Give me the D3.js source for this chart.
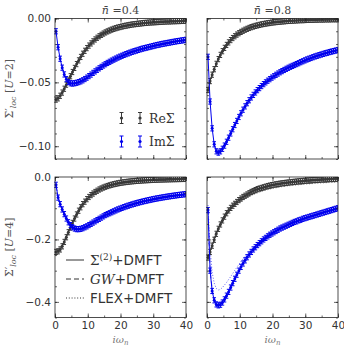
<html>
<head>
<script src="https://d3js.org/d3.v7.min.js"></script>
<style>
  body { margin: 0; background: white; }
  text { font-family: "DejaVu Sans", sans-serif; }
  .serif { font-family: "DejaVu Serif", serif; }
</style>
</head>
<body>
<div id="chart"></div>
<script>
// Matsubara frequencies
var wn = [0.31,0.94,1.57,2.20,2.83,3.46,4.08,4.71,5.34,5.97,
  6.60,7.23,7.85,8.48,9.11,9.74,10.37,11.00,11.62,12.25,
  12.88,13.51,14.14,14.77,15.39,16.02,16.65,17.28,17.91,18.54,
  19.16,19.79,20.42,21.05,21.68,22.31,22.93,23.56,24.19,24.82,
  25.45,26.08,26.70,27.33,27.96,28.59,29.22,29.85,30.47,31.10,
  31.73,32.36,32.99,33.62,34.24,34.87,35.50,36.13,36.76,37.39,
  38.01,38.64,39.27,39.90];

// U=2, n=0.4
var reU2n04 = [-0.0635,-0.0625,-0.0605,-0.0580,-0.0550,-0.0518,-0.0485,-0.0452,-0.0419,-0.0387,
  -0.0357,-0.0328,-0.0301,-0.0276,-0.0253,-0.0232,-0.0212,-0.0195,-0.0179,-0.0164,
  -0.0151,-0.0139,-0.0128,-0.0118,-0.0109,-0.0101,-0.0094,-0.0087,-0.0081,-0.0076,
  -0.0071,-0.0067,-0.0063,-0.0059,-0.0056,-0.0053,-0.0050,-0.0047,-0.0045,-0.0043,
  -0.0041,-0.0039,-0.0037,-0.0035,-0.0034,-0.0032,-0.0031,-0.0030,-0.0029,-0.0028,
  -0.0027,-0.0026,-0.0025,-0.0024,-0.0023,-0.0023,-0.0022,-0.0021,-0.0021,-0.0020,
  -0.0020,-0.0019,-0.0019,-0.0018];
var imU2n04 = [-0.0100,-0.0225,-0.0315,-0.0385,-0.0438,-0.0475,-0.0497,-0.0507,-0.0509,-0.0507,
  -0.0503,-0.0498,-0.0492,-0.0484,-0.0474,-0.0463,-0.0451,-0.0439,-0.0426,-0.0414,
  -0.0402,-0.0390,-0.0379,-0.0368,-0.0358,-0.0348,-0.0339,-0.0330,-0.0322,-0.0314,
  -0.0306,-0.0299,-0.0292,-0.0285,-0.0279,-0.0273,-0.0267,-0.0261,-0.0256,-0.0251,
  -0.0246,-0.0241,-0.0236,-0.0232,-0.0228,-0.0224,-0.0220,-0.0216,-0.0212,-0.0208,
  -0.0205,-0.0201,-0.0198,-0.0195,-0.0192,-0.0189,-0.0186,-0.0183,-0.0180,-0.0177,
  -0.0175,-0.0172,-0.0170,-0.0167];

// U=2, n=0.8
var reU2n08 = [-0.0560,-0.0490,-0.0440,-0.0397,-0.0355,-0.0318,-0.0285,-0.0256,-0.0230,-0.0207,
  -0.0187,-0.0169,-0.0153,-0.0139,-0.0126,-0.0115,-0.0105,-0.0096,-0.0088,-0.0081,
  -0.0074,-0.0068,-0.0063,-0.0058,-0.0054,-0.0050,-0.0046,-0.0043,-0.0040,-0.0037,
  -0.0035,-0.0032,-0.0030,-0.0028,-0.0026,-0.0025,-0.0023,-0.0022,-0.0020,-0.0019,
  -0.0018,-0.0017,-0.0016,-0.0015,-0.0014,-0.0013,-0.0013,-0.0012,-0.0011,-0.0011,
  -0.0010,-0.0010,-0.0009,-0.0009,-0.0008,-0.0008,-0.0008,-0.0007,-0.0007,-0.0007,
  -0.0006,-0.0006,-0.0006,-0.0006];
var imU2n08 = [-0.0300,-0.0650,-0.0860,-0.0985,-0.1040,-0.1050,-0.1040,-0.1020,-0.0995,-0.0965,
  -0.0933,-0.0900,-0.0867,-0.0834,-0.0802,-0.0771,-0.0742,-0.0714,-0.0688,-0.0663,
  -0.0640,-0.0618,-0.0598,-0.0579,-0.0561,-0.0545,-0.0529,-0.0514,-0.0500,-0.0487,
  -0.0475,-0.0463,-0.0452,-0.0441,-0.0431,-0.0421,-0.0412,-0.0403,-0.0394,-0.0386,
  -0.0378,-0.0371,-0.0364,-0.0357,-0.0350,-0.0342,-0.0335,-0.0328,-0.0321,-0.0315,
  -0.0309,-0.0303,-0.0297,-0.0292,-0.0287,-0.0282,-0.0277,-0.0272,-0.0268,-0.0263,
  -0.0259,-0.0255,-0.0251,-0.0247];

// U=4, n=0.4
var reU4n04 = [-0.240,-0.238,-0.232,-0.222,-0.208,-0.193,-0.177,-0.162,-0.147,-0.133,
  -0.120,-0.108,-0.097,-0.087,-0.079,-0.071,-0.064,-0.058,-0.053,-0.048,
  -0.044,-0.040,-0.0368,-0.0338,-0.0312,-0.0289,-0.0268,-0.0249,-0.0232,-0.0217,
  -0.0203,-0.0190,-0.0179,-0.0169,-0.0160,-0.0152,-0.0144,-0.0137,-0.0131,-0.0125,
  -0.0120,-0.0115,-0.0110,-0.0106,-0.0102,-0.0098,-0.0095,-0.0092,-0.0089,-0.0086,
  -0.0083,-0.0081,-0.0079,-0.0077,-0.0075,-0.0073,-0.0071,-0.0069,-0.0068,-0.0066,
  -0.0065,-0.0063,-0.0062,-0.0061];
var imU4n04 = [-0.025,-0.066,-0.087,-0.104,-0.119,-0.133,-0.145,-0.154,-0.161,-0.165,
  -0.167,-0.167,-0.166,-0.164,-0.161,-0.158,-0.154,-0.150,-0.146,-0.142,
  -0.138,-0.134,-0.130,-0.126,-0.122,-0.119,-0.116,-0.113,-0.110,-0.107,
  -0.104,-0.1015,-0.0990,-0.0965,-0.0942,-0.0920,-0.0898,-0.0878,-0.0858,-0.0839,
  -0.0821,-0.0804,-0.0787,-0.0771,-0.0756,-0.0741,-0.0727,-0.0713,-0.0700,-0.0687,
  -0.0675,-0.0663,-0.0652,-0.0641,-0.0630,-0.0620,-0.0610,-0.0600,-0.0591,-0.0582,
  -0.0573,-0.0565,-0.0557,-0.0549];

// U=4, n=0.8
var reU4n08 = [-0.258,-0.240,-0.220,-0.201,-0.182,-0.166,-0.152,-0.139,-0.127,-0.116,
  -0.107,-0.099,-0.092,-0.086,-0.080,-0.074,-0.069,-0.064,-0.060,-0.056,
  -0.052,-0.048,-0.045,-0.042,-0.039,-0.037,-0.035,-0.033,-0.031,-0.029,
  -0.0275,-0.0260,-0.0247,-0.0235,-0.0224,-0.0213,-0.0203,-0.0194,-0.0185,-0.0177,
  -0.0169,-0.0161,-0.0154,-0.0147,-0.0140,-0.0134,-0.0128,-0.0122,-0.0116,-0.0110,
  -0.0105,-0.0100,-0.0095,-0.0090,-0.0086,-0.0082,-0.0078,-0.0074,-0.0070,-0.0066,
  -0.0063,-0.0060,-0.0057,-0.0054];
var imU4n08 = [-0.106,-0.300,-0.365,-0.395,-0.408,-0.411,-0.409,-0.402,-0.392,-0.380,
  -0.368,-0.354,-0.340,-0.326,-0.313,-0.300,-0.288,-0.277,-0.267,-0.257,
  -0.248,-0.240,-0.232,-0.225,-0.218,-0.212,-0.206,-0.200,-0.195,-0.190,
  -0.185,-0.181,-0.177,-0.173,-0.169,-0.165,-0.162,-0.159,-0.156,-0.153,
  -0.150,-0.147,-0.144,-0.142,-0.139,-0.137,-0.134,-0.132,-0.130,-0.128,
  -0.126,-0.124,-0.122,-0.120,-0.118,-0.116,-0.114,-0.112,-0.110,-0.108,
  -0.106,-0.104,-0.102,-0.100];

// GW+DMFT and FLEX+DMFT curves (U=4), on a coarser set of frequencies
var wnLine = [0.31,0.94,1.57,2.20,2.83,3.46,4.08,4.71,5.97,7.23,8.48,9.74,11.00,12.88,14.77,17.28,19.79,22.93,26.08,29.85,33.62,36.76,39.90];
var gwReU4n04 = [-0.236,-0.234,-0.228,-0.218,-0.205,-0.190,-0.175,-0.160,-0.132,-0.108,-0.088,-0.072,-0.059,-0.045,-0.035,-0.026,-0.020,-0.0152,-0.0122,-0.0098,-0.0083,-0.0074,-0.0066];
var gwImU4n04 = [-0.026,-0.067,-0.088,-0.104,-0.118,-0.131,-0.143,-0.152,-0.162,-0.164,-0.162,-0.156,-0.149,-0.137,-0.125,-0.112,-0.101,-0.0895,-0.0802,-0.0712,-0.0640,-0.0590,-0.0548];
var flexReU4n04 = [-0.232,-0.229,-0.224,-0.215,-0.202,-0.188,-0.173,-0.158,-0.131,-0.107,-0.088,-0.073,-0.060,-0.046,-0.036,-0.027,-0.021,-0.016,-0.013,-0.0105,-0.0089,-0.0079,-0.0071];
var flexImU4n04 = [-0.024,-0.063,-0.084,-0.100,-0.114,-0.127,-0.139,-0.148,-0.158,-0.161,-0.159,-0.154,-0.147,-0.136,-0.124,-0.111,-0.100,-0.0888,-0.0797,-0.0708,-0.0637,-0.0588,-0.0546];
var gwReU4n08 = [-0.255,-0.238,-0.219,-0.200,-0.182,-0.166,-0.153,-0.141,-0.119,-0.103,-0.091,-0.080,-0.071,-0.060,-0.051,-0.042,-0.035,-0.029,-0.025,-0.021,-0.018,-0.016,-0.0145];
var gwImU4n08 = [-0.104,-0.295,-0.360,-0.390,-0.403,-0.406,-0.404,-0.398,-0.377,-0.352,-0.325,-0.299,-0.276,-0.247,-0.224,-0.199,-0.180,-0.161,-0.146,-0.131,-0.119,-0.109,-0.099];
var flexReU4n08 = [-0.215,-0.210,-0.201,-0.189,-0.175,-0.162,-0.150,-0.139,-0.119,-0.104,-0.092,-0.082,-0.073,-0.062,-0.053,-0.044,-0.037,-0.031,-0.027,-0.023,-0.020,-0.018,-0.0165];
var flexImU4n08 = [-0.090,-0.230,-0.305,-0.340,-0.357,-0.362,-0.360,-0.354,-0.338,-0.319,-0.299,-0.280,-0.262,-0.239,-0.219,-0.196,-0.178,-0.160,-0.145,-0.131,-0.119,-0.109,-0.100];

// ticks
var xTicks = [0, 10, 20, 30, 40];
var xTickLabels = ["0", "10", "20", "30", "40"];
var yTicksTop = [0, -0.05, -0.10];
var yTickLabelsTop = ["0.00", "\u22120.05", "\u22120.10"];
var yTicksBottom = [0, -0.2, -0.4];
var yTickLabelsBottom = ["0.0", "\u22120.2", "\u22120.4"];
var titles = ["0.4", "0.8"];
var uValues = ["2", "4"];

var W = 344, H = 348;
var colX = [55, 207], plotW = 131;
var rowY = [18.5, 177], plotH = 140.5;
var yDomains = [[-0.11, 0], [-0.45, 0]];
var reColor = "#383838", imColor = "#0000ee";

var svg = d3.select("#chart").append("svg").attr("width", W).attr("height", H);

var panels = [
  { row: 0, col: 0, re: reU2n04, im: imU2n04 },
  { row: 0, col: 1, re: reU2n08, im: imU2n08 },
  { row: 1, col: 0, re: reU4n04, im: imU4n04, gw: [gwReU4n04, gwImU4n04], flex: [flexReU4n04, flexImU4n04] },
  { row: 1, col: 1, re: reU4n08, im: imU4n08, gw: [gwReU4n08, gwImU4n08], flex: [flexReU4n08, flexImU4n08] }
];

function errMark(sel, cx, cy, half, cap, r, color, sw) {
  sel.append("path")
    .attr("d", "M" + cx + "," + (cy - half) + "V" + (cy + half) +
      "M" + (cx - cap) + "," + (cy - half) + "h" + (2 * cap) +
      "M" + (cx - cap) + "," + (cy + half) + "h" + (2 * cap))
    .attr("stroke", color).attr("stroke-width", sw).attr("fill", "none");
  sel.append("circle").attr("cx", cx).attr("cy", cy).attr("r", r).attr("fill", color);
}

panels.forEach(function (p, i) {
  var x = d3.scaleLinear().domain([0, 40]).range([0, plotW]);
  var y = d3.scaleLinear().domain(yDomains[p.row]).range([plotH, 0]);
  var g = svg.append("g").attr("transform", "translate(" + colX[p.col] + "," + rowY[p.row] + ")");

  g.append("clipPath").attr("id", "clip" + i)
    .append("rect").attr("x", -2).attr("width", plotW + 2).attr("height", plotH);
  var plot = g.append("g").attr("clip-path", "url(#clip" + i + ")");

  var line = d3.line().x(function (d) { return x(d[0]); }).y(function (d) { return y(d[1]); });

  // GW and FLEX lines
  if (p.gw) {
    [[p.gw, "5,3"], [p.flex, "1,1.8"]].forEach(function (m) {
      [reColor, imColor].forEach(function (c, k) {
        plot.append("path")
          .attr("d", line(wnLine.map(function (w, j) { return [w, m[0][k][j]]; })))
          .attr("fill", "none").attr("stroke", c).attr("stroke-width", 0.8)
          .attr("stroke-dasharray", m[1]).attr("opacity", 0.8);
      });
    });
  }

  // main series with error bar markers
  [[p.re, reColor], [p.im, imColor]].forEach(function (s) {
    var pts = wn.map(function (w, j) { return [w, s[0][j]]; });
    plot.append("path").attr("d", line(pts))
      .attr("fill", "none").attr("stroke", s[1]).attr("stroke-width", 1);
    var mk = plot.append("g");
    pts.forEach(function (d) {
      errMark(mk, x(d[0]), y(d[1]), 2.6, 1.8, 1.5, s[1], 1);
    });
  });

  // axes, ticks pointing inward on every side
  var yt = p.row === 0 ? yTicksTop : yTicksBottom;
  var ytl = p.row === 0 ? yTickLabelsTop : yTickLabelsBottom;
  var yMinorStep = p.row === 0 ? 0.01 : 0.05;
  var yMinor = d3.range(0, yDomains[p.row][0] - 1e-9, -yMinorStep);
  var xMinor = d3.range(0, 41, 5);

  function styleAxis(a) {
    a.select(".domain").remove();
    a.selectAll("line").attr("stroke", "#222").attr("stroke-width", 0.7);
    a.selectAll("text").attr("fill", "#333").style("font-size", "10.5px");
  }

  var bottom = g.append("g").attr("transform", "translate(0," + plotH + ")")
    .call(d3.axisBottom(x).tickValues(xTicks).tickSize(-4).tickPadding(4)
      .tickFormat(function (d, k) { return p.row === 1 ? xTickLabels[k] : ""; }));
  styleAxis(bottom);
  styleAxis(g.append("g").attr("transform", "translate(0," + plotH + ")")
    .call(d3.axisBottom(x).tickValues(xMinor).tickSize(-2).tickFormat("")));
  styleAxis(g.append("g").call(d3.axisTop(x).tickValues(xTicks).tickSize(-4).tickFormat("")));
  styleAxis(g.append("g").call(d3.axisTop(x).tickValues(xMinor).tickSize(-2).tickFormat("")));

  var left = g.append("g")
    .call(d3.axisLeft(y).tickValues(yt).tickSize(-4).tickPadding(4)
      .tickFormat(function (d, k) { return p.col === 0 ? ytl[k] : ""; }));
  styleAxis(left);
  styleAxis(g.append("g").call(d3.axisLeft(y).tickValues(yMinor).tickSize(-2).tickFormat("")));
  styleAxis(g.append("g").attr("transform", "translate(" + plotW + ",0)")
    .call(d3.axisRight(y).tickValues(yt).tickSize(-4).tickFormat("")));
  styleAxis(g.append("g").attr("transform", "translate(" + plotW + ",0)")
    .call(d3.axisRight(y).tickValues(yMinor).tickSize(-2).tickFormat("")));

  g.append("rect").attr("width", plotW).attr("height", plotH)
    .attr("fill", "none").attr("stroke", "#222").attr("stroke-width", 0.8);

  // titles on top row
  if (p.row === 0) {
    var t = g.append("text").attr("class", "serif").attr("x", plotW / 2).attr("y", -5)
      .attr("text-anchor", "middle").attr("fill", "#444").style("font-size", "11px");
    t.append("tspan").attr("font-style", "italic").text("n\u0304");
    t.append("tspan").text(" =" + titles[p.col]);
  }
  // x labels on bottom row
  if (p.row === 1) {
    var xl = g.append("text").attr("class", "serif").attr("x", plotW / 2).attr("y", plotH + 25)
      .attr("text-anchor", "middle").attr("fill", "#777").style("font-size", "10px");
    xl.append("tspan").attr("font-style", "italic").text("i\u03c9");
    xl.append("tspan").attr("font-style", "italic").attr("dy", 2.5).style("font-size", "7px").text("n");
  }
  // y labels on left column
  if (p.col === 0) {
    var yl = g.append("text").attr("class", "serif")
      .attr("transform", "translate(-42," + (plotH / 2) + ") rotate(-90)")
      .attr("text-anchor", "middle").attr("fill", "#555").style("font-size", "11px");
    yl.append("tspan").text("\u03a3\u2032");
    yl.append("tspan").attr("font-style", "italic").attr("dy", 3).style("font-size", "8px").text("loc");
    yl.append("tspan").attr("dy", -3).text(" [");
    yl.append("tspan").attr("font-style", "italic").text("U");
    yl.append("tspan").text("=" + uValues[p.row] + "]");
  }
});

// legend: error bar entries (top-left panel)
var leg1 = svg.append("g");
[["Re\u03a3", reColor, 118], ["Im\u03a3", imColor, 141.5]].forEach(function (e) {
  errMark(leg1, 121.5, e[2], 5.5, 2, 1.6, e[1], 1);
  errMark(leg1, 140, e[2], 5.5, 2, 1.6, e[1], 1);
  leg1.append("text").attr("class", "serif").attr("x", 149).attr("y", e[2] + 4.5)
    .attr("fill", "#333").style("font-size", "12.5px").text(e[0]);
});

// legend: methods (bottom-left panel)
var leg2 = svg.append("g");
var methods = [["", "none", 260], ["GW", "5,3", 279], ["FLEX", "1,1.8", 298]];
methods.forEach(function (m, k) {
  leg2.append("line").attr("x1", 66).attr("x2", 84).attr("y1", m[2]).attr("y2", m[2])
    .attr("stroke", "#333").attr("stroke-width", 1)
    .attr("stroke-dasharray", m[1] === "none" ? null : m[1]);
  var t = leg2.append("text").attr("x", 90).attr("y", m[2] + 5)
    .attr("fill", "#333").style("font-size", "13.5px");
  if (k === 0) {
    t.append("tspan").attr("class", "serif").text("\u03a3");
    t.append("tspan").attr("class", "serif").attr("dy", -5).style("font-size", "9px").text("(2)");
    t.append("tspan").attr("dy", 5).text("+DMFT");
  } else if (k === 1) {
    t.append("tspan").attr("class", "serif").attr("font-style", "italic").text("GW");
    t.append("tspan").text("+DMFT");
  } else {
    t.text("FLEX+DMFT");
  }
});
</script>
</body>
</html>
